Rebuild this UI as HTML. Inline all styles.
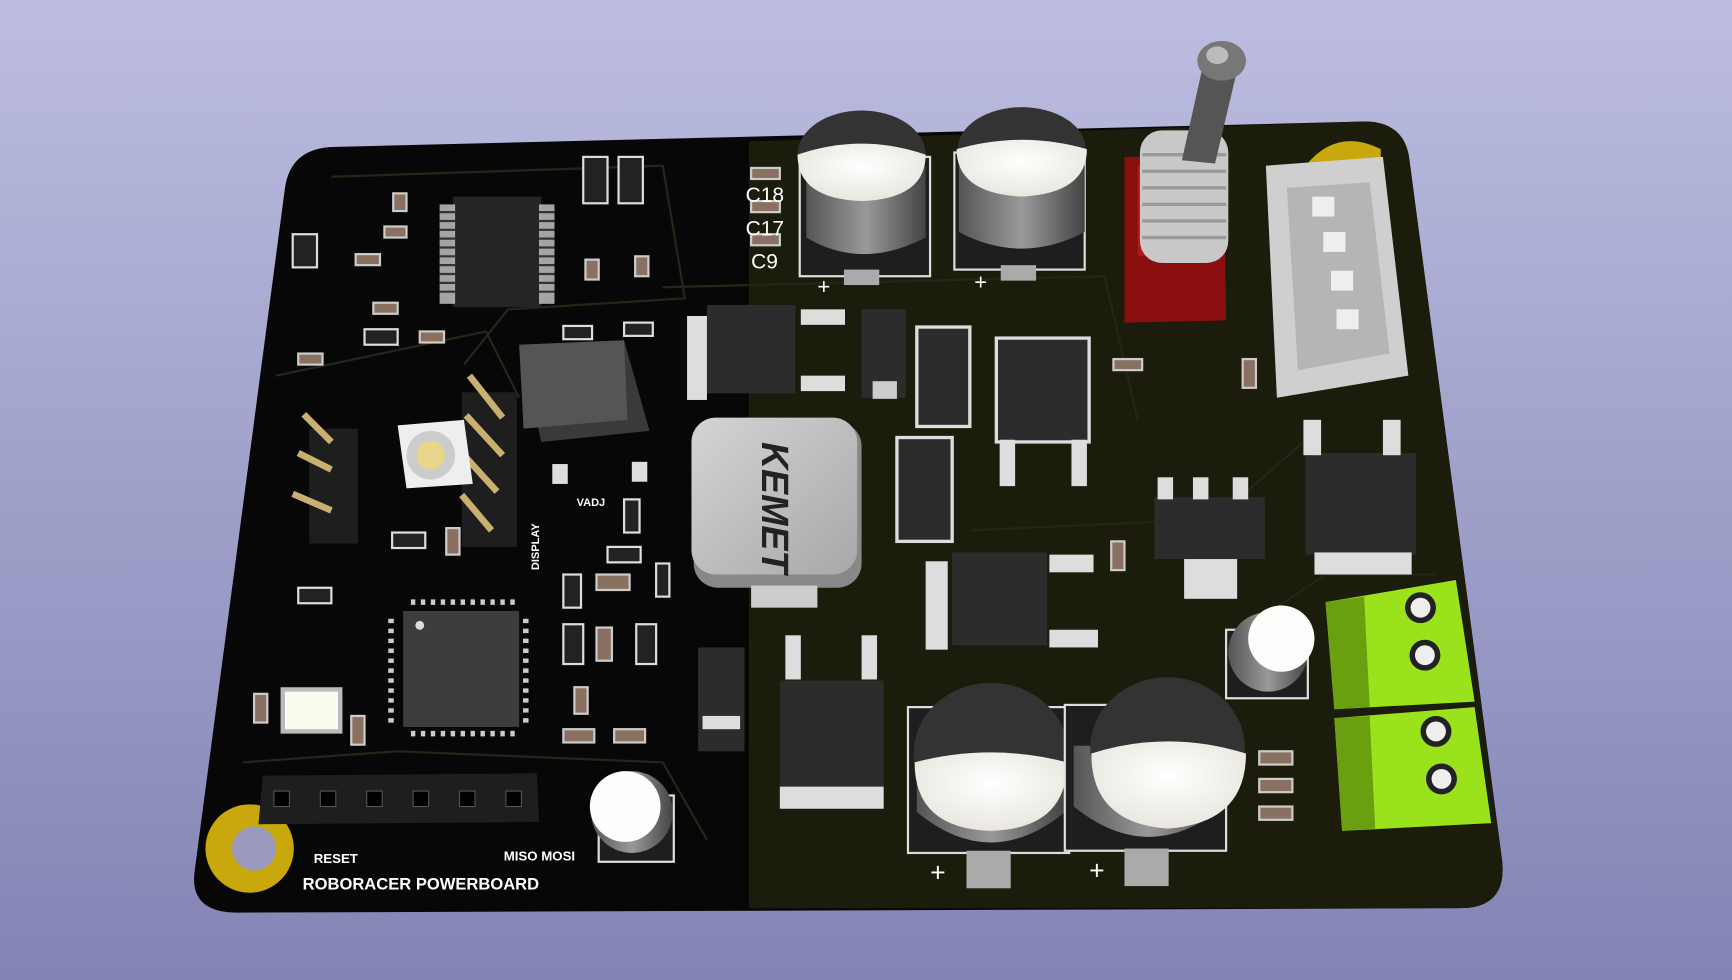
<!DOCTYPE html>
<html><head><meta charset="utf-8"><style>
html,body{margin:0;padding:0;width:1732px;height:980px;overflow:hidden}
svg{display:block}
text{font-family:"Liberation Sans",sans-serif}
</style></head><body>
<svg width="1732" height="980" viewBox="0 0 1568 887" preserveAspectRatio="none" xmlns="http://www.w3.org/2000/svg">
<defs>
<linearGradient id="bg" x1="0" y1="0" x2="0" y2="1"><stop offset="0" stop-color="#bcbde0"/><stop offset="1" stop-color="#8384b4"/></linearGradient>
<radialGradient id="capTop" cx="0.5" cy="0.4" r="0.6"><stop offset="0" stop-color="#fff"/><stop offset="1" stop-color="#e8e6de"/></radialGradient>
<linearGradient id="can" x1="0" y1="0" x2="1" y2="0"><stop offset="0" stop-color="#555"/><stop offset="0.5" stop-color="#999"/><stop offset="1" stop-color="#444"/></linearGradient>
<linearGradient id="ind" x1="0" y1="0" x2="1" y2="1"><stop offset="0" stop-color="#d4d4d4"/><stop offset="1" stop-color="#a8a8a8"/></linearGradient>
</defs>
<rect width="1568" height="887" fill="url(#bg)"/>
<!-- board -->
<path d="M300,133 L1235,110 Q1272,110 1276,145 L1360,780 Q1364,822 1322,822 L215,826 Q172,826 176,790 L258,170 Q263,135 300,133 Z" fill="#070707"/>
<path d="M678,128 L1235,110 Q1272,110 1276,145 L1360,780 Q1364,822 1322,822 L678,822 Z" fill="#1c1c0c"/>
<!-- traces -->
<g stroke="#262618" stroke-width="2" fill="none">
<path d="M300,160 L600,150 L620,270 L460,280 L420,330"/><path d="M250,340 L440,300 L470,360"/>
<path d="M220,690 L360,680 L600,690 L640,760"/><path d="M600,260 L1000,250 L1030,380"/>
<path d="M880,480 L1100,470 L1180,400"/><path d="M1140,560 L1200,520 L1300,520"/>
</g>
<!-- mounting holes -->
<circle cx="226" cy="768" r="40" fill="#c8a80c"/><circle cx="230" cy="768" r="20" fill="#9a9abc"/>
<path d="M1182,150 Q1210,115 1250,135 L1250,160 L1182,160Z" fill="#c8a80c"/>
<!-- top left SMD chip -->
<rect x="410" y="178" width="80" height="100" fill="#252525"/>
<g fill="#ccc"><rect x="398" y="185" width="14" height="90" opacity="0.8"/><rect x="488" y="185" width="14" height="90" opacity="0.8"/></g>
<g stroke="#333" stroke-width="2"><path d="M398,192H412M398,200H412M398,208H412M398,216H412M398,224H412M398,232H412M398,240H412M398,248H412M398,256H412M398,264H412M488,192H502M488,200H502M488,208H502M488,216H502M488,224H502M488,232H502M488,240H502M488,248H502M488,256H502M488,264H502"/></g>
<!-- small passives -->
<g fill="#8a7060" stroke="#ccc" stroke-width="2">
<rect x="356" y="175" width="12" height="16"/><rect x="348" y="205" width="20" height="10"/><rect x="322" y="230" width="22" height="10"/><rect x="338" y="274" width="22" height="10"/><rect x="270" y="320" width="22" height="10"/><rect x="380" y="300" width="22" height="10"/><rect x="530" y="235" width="12" height="18"/><rect x="575" y="232" width="12" height="18"/><rect x="680" y="152" width="26" height="10"/><rect x="680" y="182" width="26" height="10"/><rect x="680" y="212" width="26" height="10"/><rect x="1008" y="325" width="26" height="10"/><rect x="1125" y="325" width="12" height="26"/><rect x="1006" y="490" width="12" height="26"/><rect x="540" y="520" width="30" height="14"/><rect x="540" y="568" width="14" height="30"/><rect x="510" y="660" width="28" height="12"/><rect x="556" y="660" width="28" height="12"/><rect x="230" y="628" width="12" height="26"/><rect x="318" y="648" width="12" height="26"/><rect x="1140" y="680" width="30" height="12"/><rect x="1140" y="705" width="30" height="12"/><rect x="1140" y="730" width="30" height="12"/><rect x="404" y="478" width="12" height="24"/><rect x="520" y="622" width="12" height="24"/>
</g>
<g fill="#222" stroke="#ddd" stroke-width="2">
<rect x="528" y="142" width="22" height="42"/><rect x="560" y="142" width="22" height="42"/><rect x="265" y="212" width="22" height="30"/><rect x="330" y="298" width="30" height="14"/><rect x="355" y="482" width="30" height="14"/><rect x="270" y="532" width="30" height="14"/><rect x="510" y="565" width="18" height="36"/><rect x="576" y="565" width="18" height="36"/><rect x="510" y="520" width="16" height="30"/><rect x="550" y="495" width="30" height="14"/><rect x="565" y="452" width="14" height="30"/><rect x="510" y="295" width="26" height="12"/><rect x="565" y="292" width="26" height="12"/><rect x="594" y="510" width="12" height="30"/>
</g>
<!-- headers -->
<rect x="280" y="388" width="44" height="104" fill="#1e1e1e"/>
<g stroke="#c9b070" stroke-width="6"><path d="M275,375 L300,400 M270,410 L300,425 M265,447 L300,462"/></g>
<rect x="418" y="355" width="50" height="140" fill="#1e1e1e"/>
<g stroke="#c9b070" stroke-width="6"><path d="M425,340 L455,378 M422,376 L455,412 M420,412 L450,445 M418,448 L445,480"/></g>
<!-- button -->
<polygon points="360,385 420,380 428,438 368,442" fill="#eee"/><circle cx="390" cy="412" r="22" fill="#ccc"/><circle cx="390" cy="412" r="13" fill="#e6d58a"/>
<!-- potentiometer -->
<polygon points="470,312 565,308 588,390 490,400" fill="#3a3a3a"/><polygon points="470,312 565,308 568,380 474,388" fill="#555"/>
<rect x="500" y="420" width="14" height="18" fill="#ddd"/><rect x="572" y="418" width="14" height="18" fill="#ddd"/>
<!-- MCU -->
<rect x="365" y="553" width="105" height="105" fill="#3d3d3d"/>
<circle cx="380" cy="566" r="4" fill="#ddd"/>
<g stroke="#ccc" stroke-width="5" stroke-dasharray="4 5"><path d="M372,545H468M372,664H468M354,560V655M476,560V655"/></g>
<!-- crystal -->
<rect x="254" y="622" width="56" height="42" fill="#bbb"/><rect x="258" y="626" width="48" height="34" fill="#fbfbf0"/>
<!-- bottom header -->
<polygon points="238,702 486,700 488,744 234,746" fill="#1e1e1e"/>
<g fill="#000" stroke="#555" stroke-width="1"><rect x="248" y="716" width="14" height="14"/><rect x="290" y="716" width="14" height="14"/><rect x="332" y="716" width="14" height="14"/><rect x="374" y="716" width="14" height="14"/><rect x="416" y="716" width="14" height="14"/><rect x="458" y="716" width="14" height="14"/></g>
<!-- small cap bottom left -->
<rect x="542" y="720" width="68" height="60" fill="#1e1e1e" stroke="#ddd" stroke-width="2"/><circle cx="572" cy="735" r="37" fill="url(#can)"/><circle cx="566" cy="730" r="32" fill="#fdfdfb"/>
<!-- top big caps -->
<g>
<rect x="724" y="142" width="118" height="108" fill="#1e1e1e" stroke="#ddd" stroke-width="2"/>
<path d="M730,150 V215 Q780,245 838,215 V150Z" fill="url(#can)"/>
<ellipse cx="780" cy="140" rx="58" ry="40" fill="#333"/><path d="M722,140 Q780,120 838,140 Q838,180 780,182 Q722,180 722,140Z" fill="url(#capTop)"/>
<rect x="764" y="244" width="32" height="14" fill="#aaa"/>
<rect x="864" y="138" width="118" height="106" fill="#1e1e1e" stroke="#ddd" stroke-width="2"/>
<path d="M868,145 V210 Q925,240 982,210 V145Z" fill="url(#can)"/>
<ellipse cx="925" cy="135" rx="58" ry="38" fill="#333"/><path d="M866,135 Q925,118 984,135 Q984,175 925,178 Q866,175 866,135Z" fill="url(#capTop)"/>
<rect x="906" y="240" width="32" height="14" fill="#aaa"/>
</g>
<!-- bottom big caps -->
<g>
<rect x="822" y="640" width="146" height="132" fill="#1e1e1e" stroke="#ddd" stroke-width="2"/>
<path d="M830,680 V735 Q897,790 964,735 V680Z" fill="url(#can)"/>
<ellipse cx="897" cy="682" rx="70" ry="64" fill="#333"/><path d="M828,690 Q897,672 966,690 Q966,750 897,752 Q828,750 828,690Z" fill="url(#capTop)"/>
<rect x="875" y="770" width="40" height="34" fill="#aaa"/>
<rect x="964" y="638" width="146" height="132" fill="#1e1e1e" stroke="#ddd" stroke-width="2"/>
<path d="M972,675 V730 Q1040,785 1108,730 V675Z" fill="url(#can)"/>
<ellipse cx="1057" cy="677" rx="70" ry="64" fill="#333"/><path d="M988,682 Q1057,660 1128,682 Q1128,745 1057,750 Q988,745 988,682Z" fill="url(#capTop)"/>
<rect x="1018" y="768" width="40" height="34" fill="#aaa"/>
<rect x="1110" y="570" width="74" height="62" fill="#1e1e1e" stroke="#ddd" stroke-width="2"/><circle cx="1148" cy="590" r="36" fill="url(#can)"/><circle cx="1160" cy="578" r="30" fill="#fdfdfb"/>
</g>
<!-- inductor -->
<rect x="628" y="382" width="152" height="150" rx="22" fill="#888"/>
<rect x="626" y="378" width="150" height="142" rx="22" fill="url(#ind)"/>
<text x="0" y="0" transform="translate(690,400) rotate(90)" font-size="34" font-weight="bold" font-style="italic" fill="#222">KEMET</text>
<rect x="680" y="530" width="60" height="20" fill="#ccc"/>
<!-- DPAK regulators -->
<g>
<rect x="640" y="276" width="80" height="80" fill="#2c2c2c"/><rect x="622" y="286" width="18" height="76" fill="#ddd"/><rect x="725" y="280" width="40" height="14" fill="#ddd"/><rect x="725" y="340" width="40" height="14" fill="#ddd"/>
<rect x="902" y="306" width="84" height="94" fill="#2c2c2c" stroke="#ddd" stroke-width="3"/><rect x="905" y="398" width="14" height="42" fill="#ddd"/><rect x="970" y="398" width="14" height="42" fill="#ddd"/>
<rect x="862" y="500" width="86" height="84" fill="#2c2c2c"/><rect x="838" y="508" width="20" height="80" fill="#ddd"/><rect x="950" y="502" width="40" height="16" fill="#ddd"/><rect x="950" y="570" width="44" height="16" fill="#ddd"/>
<rect x="706" y="616" width="94" height="100" fill="#2c2c2c"/><rect x="706" y="712" width="94" height="20" fill="#ddd"/><rect x="711" y="575" width="14" height="40" fill="#ddd"/><rect x="780" y="575" width="14" height="40" fill="#ddd"/>
<rect x="1182" y="410" width="100" height="92" fill="#2c2c2c"/><rect x="1190" y="500" width="88" height="20" fill="#ddd"/><rect x="1180" y="380" width="16" height="32" fill="#ddd"/><rect x="1252" y="380" width="16" height="32" fill="#ddd"/>
<rect x="1045" y="450" width="100" height="56" fill="#2c2c2c"/><rect x="1072" y="506" width="48" height="36" fill="#ddd"/><rect x="1048" y="432" width="14" height="20" fill="#ddd"/><rect x="1080" y="432" width="14" height="20" fill="#ddd"/><rect x="1116" y="432" width="14" height="20" fill="#ddd"/>
</g>
<!-- SMA diodes -->
<g><rect x="780" y="280" width="40" height="80" fill="#2c2c2c"/><rect x="790" y="345" width="22" height="16" fill="#ccc"/>
<rect x="830" y="296" width="48" height="90" fill="#2c2c2c" stroke="#ddd" stroke-width="3"/>
<rect x="812" y="396" width="50" height="94" fill="#2c2c2c" stroke="#ddd" stroke-width="3"/>
<rect x="632" y="586" width="42" height="94" fill="#2c2c2c"/><rect x="636" y="648" width="34" height="12" fill="#ddd"/></g>
<!-- toggle switch -->
<polygon points="1018,142 1108,142 1110,290 1018,292" fill="#8b0e0e"/>
<polygon points="1030,150 1098,148 1100,230 1030,232" fill="#b01818"/>
<rect x="1032" y="118" width="80" height="120" rx="20" fill="#c8c8c8"/>
<g stroke="#999" stroke-width="3"><path d="M1034,140H1110M1034,155H1110M1034,170H1110M1034,185H1110M1034,200H1110M1034,215H1110"/></g>
<path d="M1070,145 L1090,55 L1122,55 L1100,148Z" fill="#555"/>
<ellipse cx="1106" cy="55" rx="22" ry="18" fill="#777"/><ellipse cx="1102" cy="50" rx="10" ry="8" fill="#bbb"/>
<!-- JST connector -->
<polygon points="1146,150 1252,142 1275,340 1156,360" fill="#cfcfcf"/>
<polygon points="1165,170 1240,165 1258,320 1175,335" fill="#b5b5b5"/>
<g fill="#eee"><rect x="1188" y="178" width="20" height="18"/><rect x="1198" y="210" width="20" height="18"/><rect x="1205" y="245" width="20" height="18"/><rect x="1210" y="280" width="20" height="18"/></g>
<!-- green terminals -->
<g>
<polygon points="1200,545 1318,525 1335,635 1208,642" fill="#9ae21c"/>
<polygon points="1200,545 1235,540 1240,640 1208,642" fill="#6aa010"/>
<circle cx="1286" cy="550" r="14" fill="#222"/><circle cx="1286" cy="550" r="9" fill="#eee"/>
<circle cx="1290" cy="593" r="14" fill="#222"/><circle cx="1290" cy="593" r="9" fill="#eee"/>
<polygon points="1208,650 1335,640 1350,745 1215,752" fill="#9ae21c"/>
<polygon points="1208,650 1240,648 1245,750 1215,752" fill="#6aa010"/>
<circle cx="1300" cy="662" r="14" fill="#222"/><circle cx="1300" cy="662" r="9" fill="#eee"/>
<circle cx="1305" cy="705" r="14" fill="#222"/><circle cx="1305" cy="705" r="9" fill="#eee"/>
</g>
<!-- labels -->
<g fill="#fff">
<text x="675" y="183" font-size="19">C18</text>
<text x="675" y="213" font-size="19">C17</text>
<text x="680" y="243" font-size="19">C9</text>
<text x="740" y="266" font-size="20">+</text><text x="882" y="262" font-size="20">+</text>
<text x="842" y="798" font-size="24">+</text><text x="986" y="796" font-size="24">+</text>
<text x="522" y="458" font-size="10" font-weight="bold">VADJ</text>
<text transform="translate(488,516) rotate(-90)" font-size="10" font-weight="bold">DISPLAY</text>
<text x="284" y="781" font-size="12" font-weight="bold">RESET</text>
<text x="456" y="779" font-size="12" font-weight="bold">MISO  MOSI</text>
<text x="274" y="805" font-size="15" font-weight="bold">ROBORACER POWERBOARD</text>
</g>
</svg>
</body></html>
